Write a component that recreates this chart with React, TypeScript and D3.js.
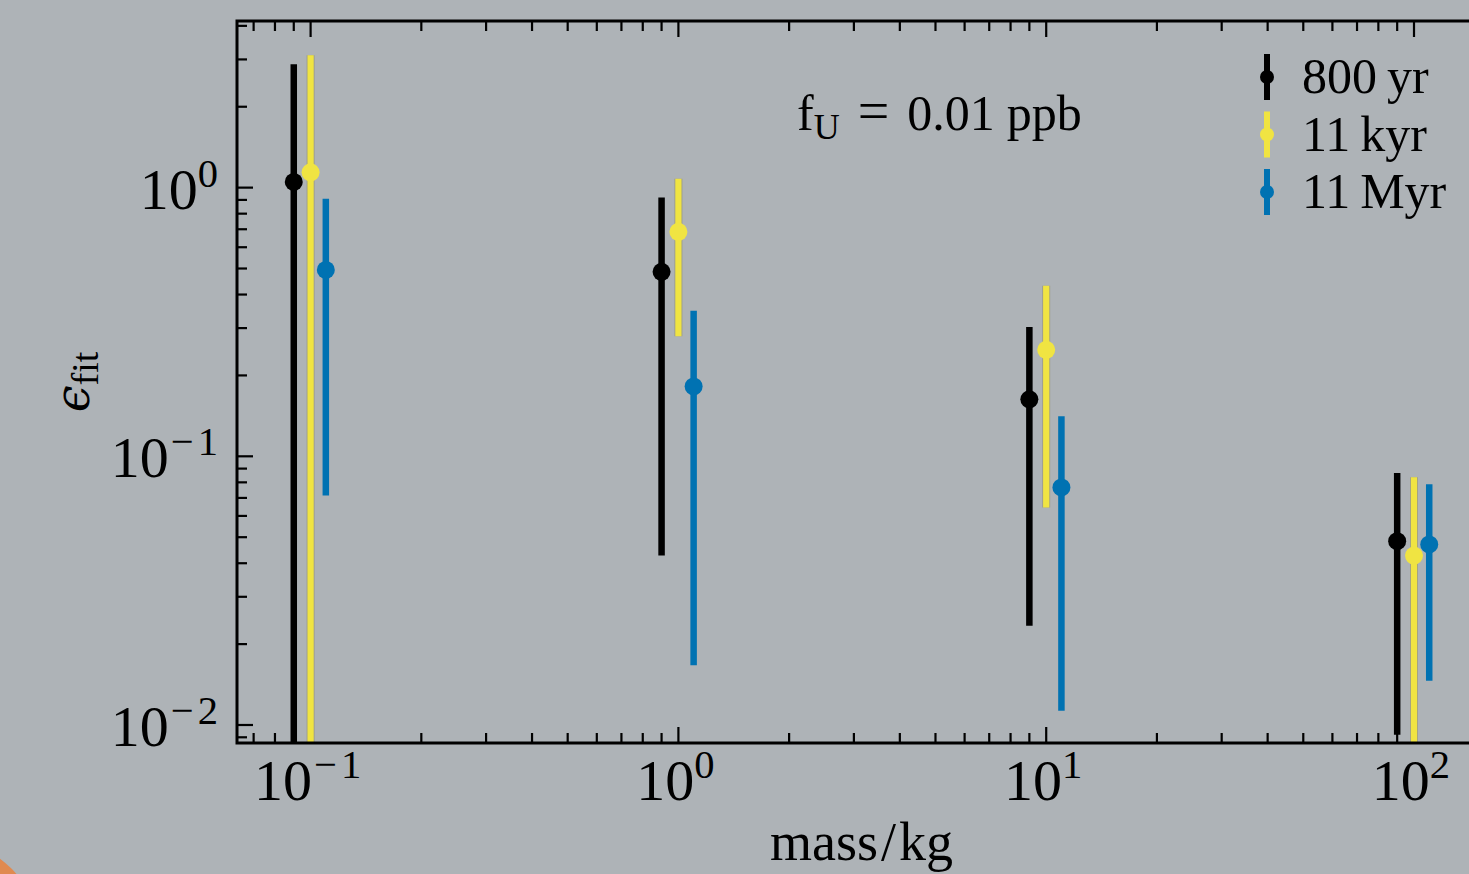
import React from "react";
import * as d3 from "d3";

// masses (kg) and the x-offset factor each series is drawn at
const masses = [0.1, 1, 10, 100];
const seriesNames = ["800 yr", "11 kyr", "11 Myr"];
const seriesColors = ["#000000", "#f0e442", "#0072b2"];
const seriesShift = [0.9, 1.0, 1.1];

// eps_fit central values and error bar ends
const oldValues = [1.05, 0.486, 0.163, 0.0483];
const oldUpper = [2.88, 0.918, 0.303, 0.0866];
const oldLower = [0.005, 0.0427, 0.0234, 0.0092];

const midValues = [1.14, 0.685, 0.249, 0.0427];
const midUpper = [3.11, 1.08, 0.431, 0.0835];
const midLower = [0.005, 0.28, 0.0645, 0.005];

const youngValues = [0.494, 0.182, 0.0766, 0.047];
const youngUpper = [0.91, 0.348, 0.141, 0.0787];
const youngLower = [0.0715, 0.0167, 0.0113, 0.0146];

const xTickExps = [-1, 0, 1, 2];
const yTickExps = [-2, -1, 0];
const yDomain = [0.00857, 4.17];

const W = 1469;
const H = 874;
const margin = { left: 237, top: 21, right: 1486, bottom: 743 };
const serif = "'Liberation Serif', 'DejaVu Serif', serif";

const series = [
  { values: oldValues, upper: oldUpper, lower: oldLower },
  { values: midValues, upper: midUpper, lower: midLower },
  { values: youngValues, upper: youngUpper, lower: youngLower },
].map((s, i) => ({
  ...s,
  name: seriesNames[i],
  color: seriesColors[i],
  xs: masses.map((m) => m * seriesShift[i]),
}));

const allX = series.flatMap((s) => s.xs);
const lx0 = Math.log10(d3.min(allX)!);
const lx1 = Math.log10(d3.max(allX)!);
const pad = (lx1 - lx0) * 0.05;

const x = d3
  .scaleLog()
  .domain([10 ** (lx0 - pad), 10 ** (lx1 + pad)])
  .range([margin.left, margin.right]);
const y = d3.scaleLog().domain(yDomain).range([margin.bottom, margin.top]);

const minorTicks = (scale: d3.ScaleLogarithmic<number, number>) => {
  const [a, b] = scale.domain();
  const out: number[] = [];
  for (let e = Math.floor(Math.log10(a)); e <= Math.ceil(Math.log10(b)); e++) {
    for (let k = 2; k <= 9; k++) {
      const v = k * 10 ** e;
      if (v >= a && v <= b) out.push(v);
    }
  }
  return out;
};

const Pow = ({ exp, size }: { exp: number; size: number }) => (
  <>
    <tspan>10</tspan>
    {exp < 0 ? (
      <>
        <tspan fontSize={size * 0.7} dy={-size * 0.38} dx={2}>
          {"\u2212"}
        </tspan>
        <tspan fontSize={size * 0.7} dx={4}>
          {String(Math.abs(exp))}
        </tspan>
      </>
    ) : (
      <tspan fontSize={size * 0.7} dy={-size * 0.38}>
        {String(exp)}
      </tspan>
    )}
  </>
);

const App = () => {
  const tickSize = 58;
  const xMinor = minorTicks(x);
  const yMinor = minorTicks(y);
  const majorLen = 16;
  const minorLen = 10;

  return (
    <svg
      width={W}
      height={H}
      style={{ position: "absolute", left: 0, top: 0 }}
      fontFamily={serif}
    >
      <defs>
        <clipPath id="plot-clip">
          <rect
            x={margin.left}
            y={margin.top}
            width={margin.right - margin.left}
            height={margin.bottom - margin.top}
          />
        </clipPath>
      </defs>
      <rect width={W} height={H} fill="#aeb3b7" />
      <circle cx={-60} cy={940} r={101} fill="#e08a50" />

      {/* ticks (under the data) */}
      <g stroke="#000" strokeWidth={2.2}>
        {xTickExps.map((e) => (
          <g key={"xm" + e}>
            <line x1={x(10 ** e)} x2={x(10 ** e)} y1={margin.bottom} y2={margin.bottom - majorLen} />
            <line x1={x(10 ** e)} x2={x(10 ** e)} y1={margin.top} y2={margin.top + majorLen} />
          </g>
        ))}
        {xMinor.map((v) => (
          <g key={"xn" + v}>
            <line x1={x(v)} x2={x(v)} y1={margin.bottom} y2={margin.bottom - minorLen} />
            <line x1={x(v)} x2={x(v)} y1={margin.top} y2={margin.top + minorLen} />
          </g>
        ))}
        {yTickExps.map((e) => (
          <line key={"ym" + e} x1={margin.left} x2={margin.left + majorLen} y1={y(10 ** e)} y2={y(10 ** e)} />
        ))}
        {yMinor.map((v) => (
          <line key={"yn" + v} x1={margin.left} x2={margin.left + minorLen} y1={y(v)} y2={y(v)} />
        ))}
      </g>

      {/* error bars */}
      <g clipPath="url(#plot-clip)">
        {series.map((s) =>
          s.values.map((v, j) => (
            <g key={s.name + j}>
              {s.color === "#f0e442" && (
                <line
                  x1={x(s.xs[j])}
                  x2={x(s.xs[j])}
                  y1={y(s.upper[j])}
                  y2={y(s.lower[j])}
                  stroke="#9c9c8a"
                  strokeWidth={8}
                />
              )}
              <line
                x1={x(s.xs[j])}
                x2={x(s.xs[j])}
                y1={y(s.upper[j])}
                y2={y(s.lower[j])}
                stroke={s.color}
                strokeWidth={s.color === "#f0e442" ? 6.2 : 6.5}
              />
              <circle cx={x(s.xs[j])} cy={y(v)} r={9} fill={s.color} />
            </g>
          ))
        )}
      </g>

      {/* spines */}
      <rect
        x={margin.left}
        y={margin.top}
        width={margin.right - margin.left}
        height={margin.bottom - margin.top}
        fill="none"
        stroke="#000"
        strokeWidth={3}
      />

      {/* tick labels */}
      {xTickExps.map((e) => (
        <text
          key={"xl" + e}
          x={x(10 ** e) - 3}
          y={margin.bottom + 57}
          fontSize={tickSize}
          textAnchor="middle"
        >
          <Pow exp={e} size={tickSize} />
        </text>
      ))}
      {yTickExps.map((e) => (
        <text
          key={"yl" + e}
          x={margin.left - 19}
          y={y(10 ** e) + 21}
          fontSize={tickSize}
          textAnchor="end"
        >
          <Pow exp={e} size={tickSize} />
        </text>
      ))}

      {/* axis labels */}
      <text
        x={(margin.left + margin.right) / 2}
        y={860}
        fontSize={54}
        textAnchor="middle"
      >
        <tspan>mass</tspan>
        <tspan dx={3}>/</tspan>
        <tspan dx={3}>kg</tspan>
      </text>
      <text
        transform={`translate(89, ${(margin.top + margin.bottom) / 2}) rotate(-90)`}
        textAnchor="middle"
        fontSize={48}
      >
        <tspan fontFamily="'DejaVu Serif', serif" fontStyle="italic">
          {"\u03f5"}
        </tspan>
        <tspan fontSize={38} dy={9}>
          fit
        </tspan>
      </text>

      {/* annotation */}
      <text x={797} y={130} fontSize={50}>
        <tspan>f</tspan>
        <tspan fontSize={36} dy={9}>
          U
        </tspan>
        <tspan dy={-9} dx={18} fontSize={56}>
          =
        </tspan>
        <tspan dx={18}>0.01</tspan>
        <tspan dx={12}>ppb</tspan>
      </text>

      {/* legend */}
      {series.map((s, i) => {
        const cy = 77 + i * 57.5;
        return (
          <g key={"lg" + s.name}>
            <line
              x1={1267}
              x2={1267}
              y1={cy - 23}
              y2={cy + 23}
              stroke={s.color}
              strokeWidth={6}
            />
            <circle cx={1267} cy={cy} r={7} fill={s.color} />
            <text x={1302} y={cy + 16} fontSize={50}>
              {s.name.replace(" ", "\u2009")}
            </text>
          </g>
        );
      })}
    </svg>
  );
};

export default App;
